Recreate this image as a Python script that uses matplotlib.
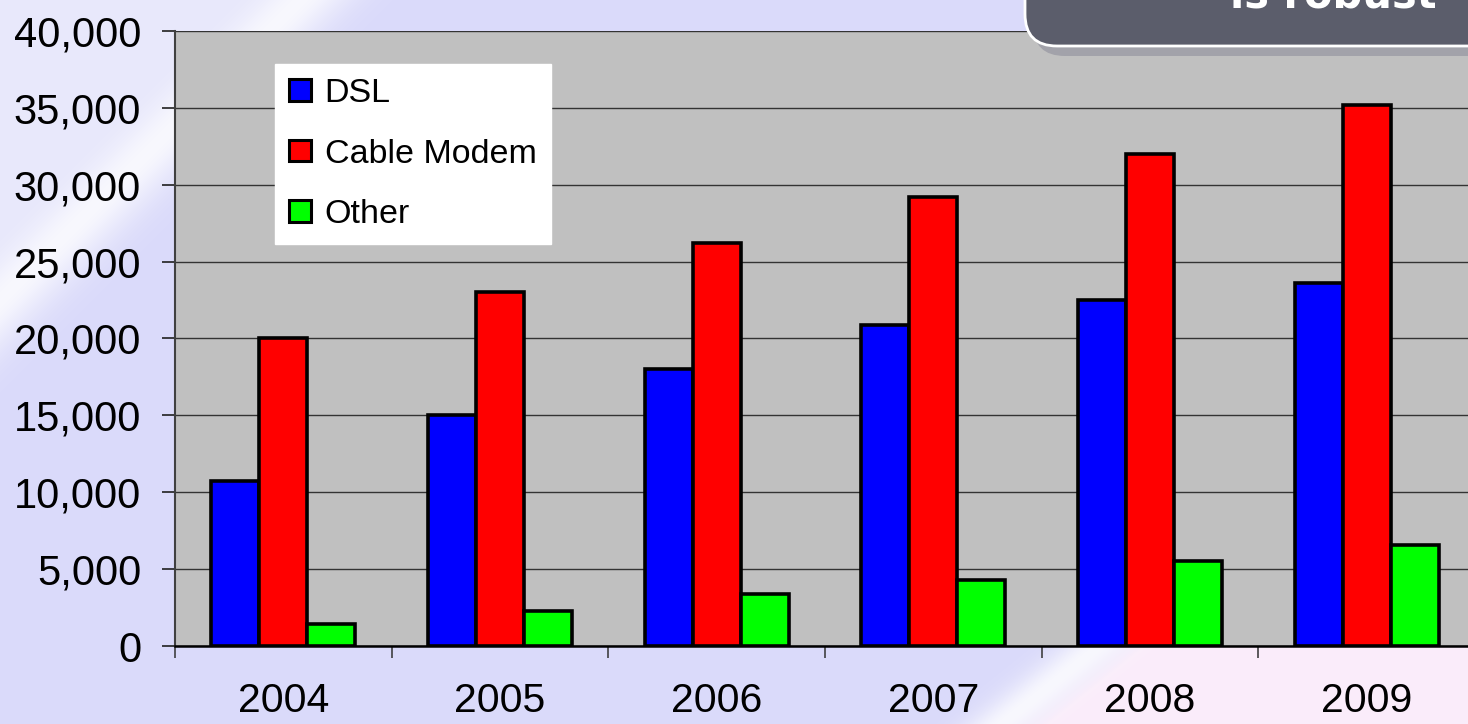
import numpy as np
import matplotlib
matplotlib.use("Agg")
import matplotlib.pyplot as plt
from matplotlib.patches import FancyBboxPatch
from matplotlib.ticker import FuncFormatter

# data
years = ['2004', '2005', '2006', '2007', '2008', '2009']
dsl = [10700, 15000, 18000, 20900, 22500, 23600]
cable = [20000, 23000, 26200, 29200, 32000, 35200]
other = [1400, 2300, 3400, 4300, 5500, 6600]
series_names = ['DSL', 'Cable Modem', 'Other']
series_colors = ['#0000FF', '#FF0000', '#00FF00']

plt.rcParams['font.family'] = ['Liberation Sans', 'DejaVu Sans']

W, H = 1468, 724
fig = plt.figure(figsize=(W / 100, H / 100), dpi=100)

# slide background: lavender with pale swooshes
yy, xx = np.mgrid[0:H, 0:W].astype(float)
lav = np.array([218, 218, 250]) / 255
pale = np.array([232, 232, 251]) / 255
pink = np.array([250, 236, 250]) / 255
s2 = (xx + yy - 300) / 1.414
s1 = ((xx - 1000) + (yy - 724) * 1.25) / 1.6
img = np.ones((H, W, 3)) * lav
a = np.clip(-s2 / 60, 0, 1)[..., None]
img = img * (1 - a) + pale * a
b = np.clip(s1 / 30, 0, 1)[..., None]
img = img * (1 - b) + pink * b
white = np.exp(-(s2 / 35) ** 2) * 0.8 + np.exp(-(s1 / 22) ** 2) * 0.8
img = img + (1 - img) * np.clip(white, 0, 1)[..., None]
bg = fig.add_axes([0, 0, 1, 1], zorder=-1)
bg.imshow(img, aspect='auto', extent=(0, W, H, 0))
bg.axis('off')

ax = fig.add_axes([175 / W, (H - 646) / H, 1300 / W, 615 / H])
ax.set_facecolor('#C0C0C0')

x = np.arange(len(years))
w = 0.222
for i, (vals, name, col) in enumerate(zip([dsl, cable, other], series_names, series_colors)):
    ax.bar(x + (i - 1) * w, vals, w, color=col, edgecolor='black',
           linewidth=2.6, label=name, zorder=3)

ax.set_xlim(-0.5, 5.5)
ax.set_ylim(0, 40000)
ax.set_yticks(range(0, 40001, 5000))
ax.yaxis.set_major_formatter(FuncFormatter(lambda v, p: f'{int(v):,}'))
ax.grid(axis='y', color='#333333', linewidth=1, zorder=1)
ax.set_axisbelow(True)

ax.set_xticks(np.arange(-0.5, 6, 1))
ax.set_xticklabels([])
ax.set_xticks(x, minor=True)
ax.set_xticklabels(years, minor=True)
ax.tick_params(axis='x', which='major', length=8.6, width=1.2, color='#404040', direction='out')
ax.tick_params(axis='x', which='minor', length=0, pad=26, labelsize=29.5)
ax.tick_params(axis='y', length=9.4, width=1.2, color='#202020', direction='out',
               pad=15, labelsize=30)

for s in ['top', 'right']:
    ax.spines[s].set_visible(False)
ax.spines['left'].set_color('#404040')
ax.spines['left'].set_linewidth(1.5)
ax.spines['bottom'].set_color('black')
ax.spines['bottom'].set_linewidth(1.8)

leg = ax.legend(loc='upper left', bbox_to_anchor=(275 / W, 1 - 64 / H),
                bbox_transform=fig.transFigure, borderaxespad=0,
                fontsize=24.5, frameon=True, fancybox=False, framealpha=1,
                edgecolor='white', facecolor='white', handlelength=0.64,
                handleheight=0.6, handletextpad=0.4, labelspacing=0.86,
                borderpad=0.42)
for h in leg.legend_handles:
    h.set_linewidth(2.2)

# title box in the top right corner (cut off at the top)
px = 1 / 100
shadow = FancyBboxPatch((1033 * px, (H - 56) * px), 600 * px, 200 * px,
                        boxstyle='round,pad=0,rounding_size=0.32',
                        transform=fig.dpi_scale_trans, facecolor='#a2a2aa',
                        edgecolor='none', zorder=2)
box = FancyBboxPatch((1025 * px, (H - 46) * px), 600 * px, 200 * px,
                     boxstyle='round,pad=0,rounding_size=0.32',
                     transform=fig.dpi_scale_trans, facecolor='#5b5d6b',
                     edgecolor='white', linewidth=2, zorder=3)
fig.patches.extend([shadow, box])
fig.text(1437 / W, 1 - 7 / H, 'is robust', color='white', fontsize=30,
         fontweight='bold', family='DejaVu Sans', ha='right', va='baseline',
         zorder=4)

fig.savefig('out.png', dpi=100)
